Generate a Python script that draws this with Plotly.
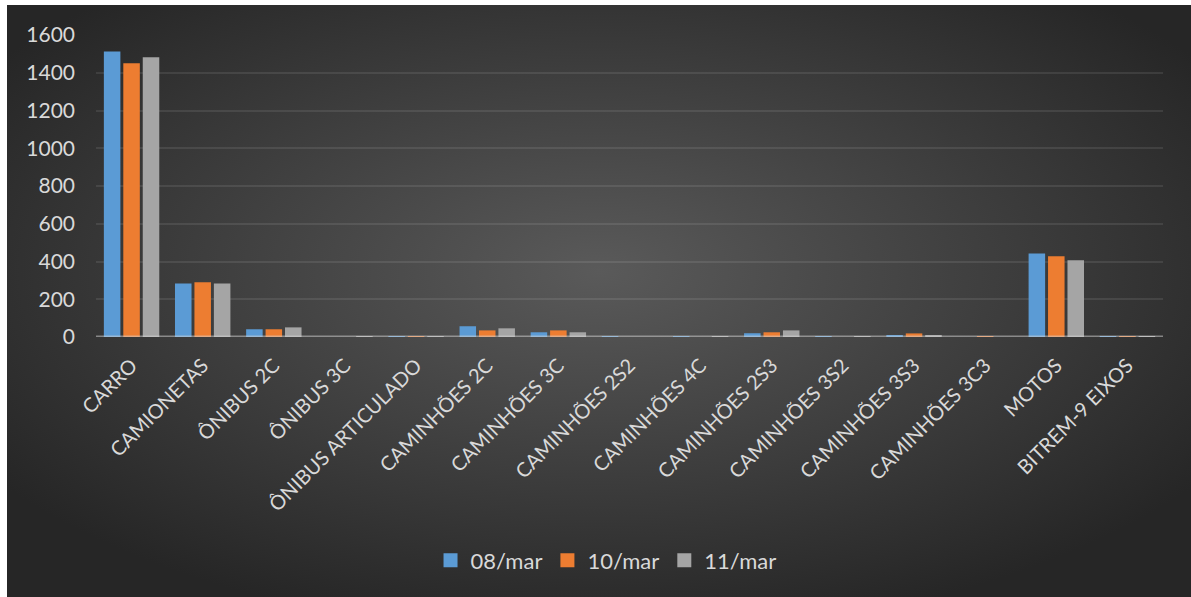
import base64
import plotly.graph_objects as go

# Vehicle counts per category, three survey days
categorias = [
    "CARRO", "CAMIONETAS", "ÔNIBUS 2C", "ÔNIBUS 3C", "ÔNIBUS ARTICULADO",
    "CAMINHÕES 2C", "CAMINHÕES 3C", "CAMINHÕES 2S2", "CAMINHÕES 4C",
    "CAMINHÕES 2S3", "CAMINHÕES 3S2", "CAMINHÕES 3S3", "CAMINHÕES 3C3",
    "MOTOS", "BITREM-9 EIXOS",
]
mar_08 = [1513, 284, 41, 0, 4, 57, 25, 4, 4, 20, 4, 9, 0, 443, 4]
mar_10 = [1450, 290, 41, 0, 4, 35, 35, 0, 0, 25, 0, 19, 4, 428, 4]
mar_11 = [1482, 284, 51, 4, 4, 46, 25, 0, 4, 35, 4, 9, 0, 406, 4]

series = [
    ("08/mar", mar_08, "#5B9BD5"),
    ("10/mar", mar_10, "#ED7D31"),
    ("11/mar", mar_11, "#A5A5A5"),
]

W, H = 1191, 597
L, R, T, B = 96, 28, 35, 260

fig = go.Figure()
for nome, valores, cor in series:
    fig.add_trace(go.Bar(
        x=categorias, y=valores, name=nome, showlegend=False,
        marker=dict(color=cor, line=dict(width=0)),
    ))
# Legend entries with larger square swatches
for nome, valores, cor in series:
    fig.add_trace(go.Scatter(
        x=[None], y=[None], mode="markers", name=nome,
        marker=dict(symbol="square", size=14, color=cor),
    ))

# Dark radial backdrop for the chart area
svg = f"""<svg xmlns='http://www.w3.org/2000/svg' width='{W}' height='{H}' preserveAspectRatio='none' viewBox='0 0 {W} {H}'>
<defs><radialGradient id='g' cx='0.5' cy='0.45' r='0.62'>
<stop offset='0' stop-color='#5a5a5a'/>
<stop offset='1' stop-color='#262626'/>
</radialGradient></defs>
<rect x='0' y='0' width='{W}' height='{H}' fill='url(#g)'/></svg>"""
src = "data:image/svg+xml;base64," + base64.b64encode(svg.encode()).decode()

pw = W - L - R
ph = H - T - B
x0_px, y0_px = 7, 5
fig.add_layout_image(dict(
    source=src, xref="paper", yref="paper",
    x=(x0_px - L) / pw, y=1 + (T - y0_px) / ph,
    sizex=(W - x0_px) / pw, sizey=(H - y0_px) / ph,
    xanchor="left", yanchor="top", sizing="stretch", layer="below",
))

# Light baseline at zero, drawn over the bar bottoms
fig.add_shape(type="line", xref="paper", yref="y", x0=0, x1=1, y0=0, y1=0,
              line=dict(color="rgba(217,217,217,0.5)", width=3), layer="above")

fonte = dict(family="Lato, Noto Sans, sans-serif", color="#d9d9d9", size=20)

fig.update_layout(
    width=W, height=H,
    margin=dict(l=L, r=R, t=T, b=B, autoexpand=False),
    paper_bgcolor="white", plot_bgcolor="rgba(0,0,0,0)",
    barmode="group", bargap=0.18, bargroupgap=0.15,
    font=fonte,
    showlegend=True,
    legend=dict(orientation="h", x=0.478, xanchor="center",
                y=-0.74, yanchor="middle", font=dict(size=22, color="#d9d9d9"),
                bgcolor="rgba(0,0,0,0)", itemwidth=30, tracegroupgap=0),
    xaxis=dict(tickangle=-45, showgrid=False, zeroline=False, showline=False,
               ticks="", tickfont=dict(size=20), ticklabelstandoff=12),
    yaxis=dict(range=[0, 1600], dtick=200, showgrid=True,
               gridcolor="rgba(255,255,255,0.09)", gridwidth=1.5,
               zeroline=False, showline=False, ticks="",
               tickfont=dict(size=21), ticklabelstandoff=20),
)

fig.write_html("out.html")
